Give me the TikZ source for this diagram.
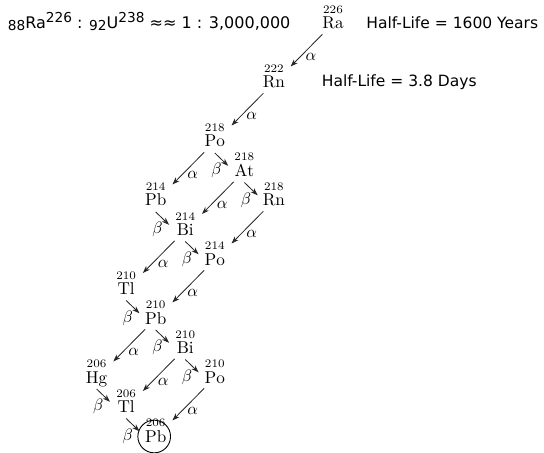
\documentclass[tikz,border=0pt]{standalone}
\usepackage{fontspec}
\newfontfamily\dvsans{DejaVu Sans}
\usetikzlibrary{calc,arrows.meta}
\newcommand\elem[2]{$\mathop{\mathrm{#2}}\limits^{#1}$}
\newcommand\mysub[1]{\raisebox{-1.2pt}{\fontsize{8.3}{9}\selectfont #1}}
\newcommand\mysup[1]{\raisebox{4.1pt}{\fontsize{8.3}{9}\selectfont #1}}
\newcommand\adecay[2]{\draw[decay] ($(#1.base)+(-10.6,5.3)$) -- ($(#2.base)+(16.7,-21.5)$) node[lab, midway, shift={(4.4,6.6)}] {$\alpha$};}
\newcommand\bdecay[2]{\draw[decay] ($(#1.base)+(0,6)$) -- ($(#2.base)+(-16.2,-10.7)$) node[lab, midway, shift={(-5,11)}] {$\beta$};}
\begin{document}
\begin{tikzpicture}[x=0.606pt,y=-0.606pt,
  el/.style={anchor=base, inner sep=0pt, font=\fontsize{10.4}{12}\selectfont},
  decay/.style={draw=black!85, line width=0.5pt, -{Stealth[length=4.5pt,width=3.2pt]}},
  lab/.style={inner sep=0pt, font=\fontsize{10.4}{12}\selectfont},
  sans/.style={anchor=base west, inner sep=0pt, font=\dvsans\fontsize{9.4}{11}\selectfont}]
\useasboundingbox (0,0) rectangle (544,453);
% nuclides
\node[el] (Ra)   at (333,29)      {\elem{226}{Ra}};
\node[el] (Rn)   at (273.9,88)    {\elem{222}{Rn}};
\node[el] (PoA)  at (214.8,147)   {\elem{218}{Po}};
\node[el] (At)   at (244.35,176.5){\elem{218}{At}};
\node[el] (PbA)  at (155.7,206)   {\elem{214}{Pb}};
\node[el] (RnB)  at (273.9,206)   {\elem{218}{Rn}};
\node[el] (BiA)  at (185.25,235.5){\elem{214}{Bi}};
\node[el] (PoB)  at (214.8,265)   {\elem{214}{Po}};
\node[el] (TlA)  at (126.15,294.5){\elem{210}{Tl}};
\node[el] (PbB)  at (155.7,324)   {\elem{210}{Pb}};
\node[el] (BiB)  at (185.25,353.5){\elem{210}{Bi}};
\node[el] (Hg)   at (96.6,383)    {\elem{206}{Hg}};
\node[el] (PoC)  at (214.8,383)   {\elem{210}{Po}};
\node[el] (TlB)  at (126.15,412.5){\elem{206}{Tl}};
\node[el] (PbC)  at (155.7,442)   {\elem{206}{Pb}};
\draw[line width=0.55pt] ([shift={(-1.5,-5.5)}]PbC.base) circle[radius=9.9pt];
% texts
\node[sans, font=\dvsans\fontsize{9.7}{11}\selectfont] (ratio) at (7.5,29) {\mysub{88}Ra\mysup{226} : \mysub{92}U\mysup{238} ≈≈ 1 : 3,000,000};
\node[sans] (hlRa) at (366,29) {Half-Life = 1600 Years};
\node[sans] (hlRn) at (321.5,87) {Half-Life = 3.8 Days};
% decays
\adecay{Ra}{Rn}
\adecay{Rn}{PoA}
\adecay{PoA}{PbA}
\bdecay{PoA}{At}
\adecay{At}{BiA}
\bdecay{At}{RnB}
\bdecay{PbA}{BiA}
\adecay{RnB}{PoB}
\adecay{BiA}{TlA}
\bdecay{BiA}{PoB}
\adecay{PoB}{PbB}
\bdecay{TlA}{PbB}
\adecay{PbB}{Hg}
\bdecay{PbB}{BiB}
\adecay{BiB}{TlB}
\bdecay{BiB}{PoC}
\bdecay{Hg}{TlB}
\adecay{PoC}{PbC}
\bdecay{TlB}{PbC}
\end{tikzpicture}
\end{document}
